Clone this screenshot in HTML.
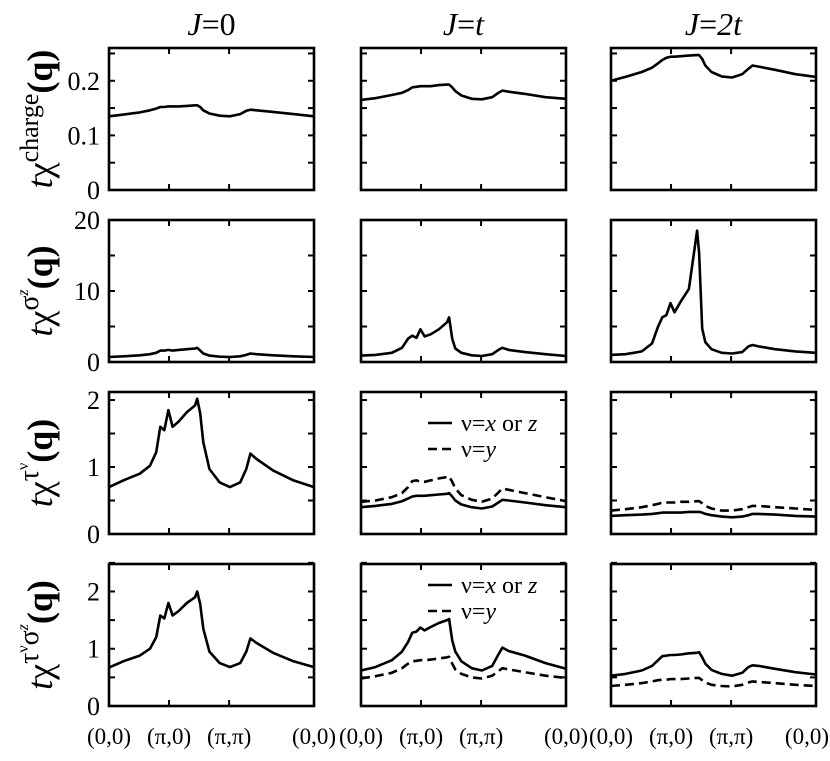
<!DOCTYPE html>
<html><head><meta charset="utf-8"><style>
html,body{margin:0;padding:0;background:#fff;}
svg{display:block;font-family:"Liberation Serif",serif;}
</style></head><body>
<svg id="fig" width="830" height="761" viewBox="0 0 830 761" xmlns="http://www.w3.org/2000/svg"></svg>
<script>
// ---- data ----
const xGrid = [0,0.07,0.15,0.2,0.23,0.25,0.27,0.29,0.31,0.34,0.38,0.42,0.43,0.445,0.46,0.49,0.54,0.59,0.64,0.67,0.69,0.72,0.8,0.9,1];
const xTickLabels = ["(0,0)","(\u03c0,0)","(\u03c0,\u03c0)","(0,0)"];
const xTickVals = [0, 1/3.414, 2/3.414, 1];
const colTitles = ["0","t","2t"];

const chargeJ0 = [0.135,0.138,0.142,0.146,0.149,0.152,0.152,0.153,0.153,0.153,0.154,0.155,0.155,0.152,0.146,0.140,0.136,0.135,0.139,0.145,0.147,0.146,0.143,0.139,0.135];
const chargeJ1 = [0.165,0.168,0.174,0.178,0.183,0.188,0.189,0.190,0.190,0.190,0.192,0.193,0.193,0.188,0.181,0.173,0.167,0.166,0.170,0.178,0.182,0.180,0.176,0.170,0.167];
const chargeJ2 = [0.200,0.207,0.216,0.224,0.232,0.238,0.242,0.244,0.244,0.245,0.246,0.247,0.247,0.240,0.228,0.216,0.208,0.206,0.212,0.222,0.228,0.226,0.220,0.212,0.207];

const spinJ0 = [0.7,0.8,0.95,1.1,1.3,1.6,1.6,1.7,1.6,1.7,1.8,1.9,2.0,1.6,1.2,0.9,0.75,0.7,0.8,1.0,1.2,1.1,0.95,0.8,0.7];
const spinJ1 = [0.9,1.0,1.3,2.0,3.3,3.7,3.4,4.6,3.6,3.9,4.6,5.6,6.3,3.3,1.9,1.3,0.95,0.85,1.1,1.7,2.0,1.7,1.4,1.1,0.85];
const spinJ2 = [1.0,1.1,1.5,2.6,5.0,6.3,6.6,8.3,7.0,8.5,10.3,18.5,15.4,4.7,2.8,1.8,1.3,1.2,1.4,2.2,2.4,2.2,1.8,1.5,1.3];

const orbJ0 = [0.70,0.80,0.90,1.02,1.22,1.6,1.55,1.85,1.6,1.68,1.82,1.92,2.02,1.8,1.37,0.97,0.77,0.70,0.77,0.97,1.2,1.12,0.95,0.80,0.70];
const orbJ1xz = [0.40,0.42,0.45,0.49,0.53,0.56,0.57,0.57,0.57,0.58,0.59,0.60,0.61,0.56,0.50,0.44,0.40,0.38,0.41,0.47,0.51,0.50,0.47,0.43,0.40];
const orbJ1y = [0.48,0.50,0.55,0.61,0.70,0.79,0.80,0.78,0.78,0.80,0.83,0.85,0.86,0.78,0.68,0.58,0.51,0.48,0.53,0.62,0.68,0.66,0.61,0.55,0.49];
const orbJ2xz = [0.27,0.28,0.29,0.30,0.31,0.32,0.32,0.32,0.32,0.32,0.33,0.33,0.33,0.32,0.30,0.28,0.26,0.25,0.26,0.28,0.30,0.30,0.29,0.27,0.26];
const orbJ2y = [0.35,0.37,0.40,0.43,0.45,0.47,0.47,0.47,0.47,0.48,0.48,0.49,0.49,0.46,0.42,0.38,0.35,0.35,0.37,0.40,0.42,0.42,0.40,0.38,0.36];

const soJ0 = [0.67,0.78,0.88,1.0,1.2,1.58,1.53,1.8,1.58,1.66,1.8,1.9,2.0,1.78,1.35,0.95,0.75,0.68,0.75,0.95,1.18,1.1,0.93,0.78,0.68];
const soJ1xz = [0.62,0.68,0.80,0.95,1.12,1.28,1.30,1.37,1.32,1.38,1.45,1.50,1.52,1.15,0.95,0.78,0.66,0.62,0.70,0.90,1.02,0.96,0.88,0.75,0.65];
const soJ1y = [0.48,0.52,0.58,0.66,0.74,0.78,0.79,0.80,0.80,0.81,0.83,0.85,0.86,0.74,0.64,0.56,0.50,0.48,0.53,0.61,0.66,0.64,0.59,0.53,0.49];
const soJ2xz = [0.53,0.56,0.62,0.70,0.80,0.87,0.88,0.89,0.89,0.90,0.92,0.93,0.94,0.85,0.74,0.63,0.56,0.53,0.58,0.68,0.71,0.70,0.65,0.59,0.55];
const soJ2y = [0.35,0.37,0.40,0.43,0.45,0.46,0.46,0.47,0.47,0.47,0.48,0.49,0.49,0.45,0.41,0.37,0.35,0.34,0.37,0.41,0.43,0.42,0.40,0.37,0.35];

const row1Ticks = [0,0.05,0.1,0.15,0.2,0.25];
const row1Labels = ["0","0.1","0.2"];
const row2Ticks = [0,5,10,15,20];
const row2Labels = ["0","10","20"];
const row3Ticks = [0,0.5,1,1.5,2];
const row3Labels = ["0","1","2"];
const row4Ticks = [0,0.5,1,1.5,2,2.5];
const row4Labels = ["0","1","2"];

// ---- layout ----
const NS="http://www.w3.org/2000/svg";
const svg=document.getElementById('fig');
const colX=[109,361,611], PW=205;
const rowY=[48,220,392,564], PH=142;
const rows=[
 {max:0.26, ticks:row1Ticks, labels:row1Labels, series:[[chargeJ0],[chargeJ1],[chargeJ2]], name:'charge'},
 {max:20, ticks:row2Ticks, labels:row2Labels, series:[[spinJ0],[spinJ1],[spinJ2]], name:'spin'},
 {max:2.12, ticks:row3Ticks, labels:row3Labels, series:[[orbJ0],[orbJ1xz,orbJ1y],[orbJ2xz,orbJ2y]], name:'orbital'},
 {max:2.48, ticks:row4Ticks, labels:row4Labels, series:[[soJ0],[soJ1xz,soJ1y],[soJ2xz,soJ2y]], name:'spin-orbital'}
];
function mk(tag,attrs,parent){const e=document.createElementNS(NS,tag);for(const k in attrs)e.setAttribute(k,attrs[k]);(parent||svg).appendChild(e);return e;}

rows.forEach((row,ri)=>{
 const y0=rowY[ri];
 const ys=v=>y0+PH-v/row.max*PH;
 colX.forEach((x0,ci)=>{
  const xs=f=>x0+f*PW;
  const g=mk('g',{});
  
  
  row.series[ci].forEach((vals,si)=>{
   let d='';
   vals.forEach((v,i)=>{d+=(i?'L':'M')+xs(xGrid[i]).toFixed(1)+','+ys(v).toFixed(1);});
   const p=mk('path',{d:d,fill:'none',stroke:'#000','stroke-width':2.6,'stroke-linejoin':'round'},g);
   if(si===1)p.setAttribute('stroke-dasharray','9,5');
   
   
  });
  row.ticks.forEach(t=>{
   const yy=ys(t);
   mk('line',{x1:x0,y1:yy,x2:x0+6,y2:yy,stroke:'#000','stroke-width':2},g);
   mk('line',{x1:x0+PW,y1:yy,x2:x0+PW-6,y2:yy,stroke:'#000','stroke-width':2},g);
  });
  xTickVals.slice(1,3).forEach(t=>{
   mk('line',{x1:xs(t),y1:y0,x2:xs(t),y2:y0+6,stroke:'#000','stroke-width':2},g);
   mk('line',{x1:xs(t),y1:y0+PH,x2:xs(t),y2:y0+PH-6,stroke:'#000','stroke-width':2},g);
  });
  const fr=mk('rect',{x:x0,y:y0,width:PW,height:PH,fill:'none',stroke:'#000','stroke-width':2.6},g);
  
  
 });
 row.labels.forEach(l=>{
  const t=mk('text',{x:100,y:ys(parseFloat(l))+9,'text-anchor':'end','font-size':26});
  t.textContent=l;
  
  
 });
});

colX.forEach((x0,ci)=>{
 xTickVals.forEach((f,i)=>{
  const last=(ci===2&&i===3);
  const t=mk('text',{x:last?829:x0+f*PW,y:744,'text-anchor':last?'end':'middle','font-size':23});
  t.textContent=xTickLabels[i];
  
  
 });
 const tt=mk('text',{x:x0+PW/2,y:35,'text-anchor':'middle','font-size':32});
 tt.innerHTML='<tspan font-style="italic">J</tspan>=<tspan'+(colTitles[ci]==='0'?'':' font-style="italic"')+'>'+colTitles[ci]+'</tspan>';
 
 
});
</script>
<script>
(function(){
 const NS="http://www.w3.org/2000/svg", svg=document.getElementById('fig');
 const titles=[
  {cy:119, html:'<tspan font-style="italic">t</tspan>χ<tspan dy="-14" font-size="26">charge</tspan><tspan dy="14" font-weight="bold">(q)</tspan>'},
  {cy:291, html:'<tspan font-style="italic">t</tspan>χ<tspan dy="-14" font-size="28">σ</tspan><tspan dy="-10" font-size="16" font-style="italic">z</tspan><tspan dy="24" font-weight="bold">(q)</tspan>'},
  {cy:463, html:'<tspan font-style="italic">t</tspan>χ<tspan dy="-14" font-size="28">τ</tspan><tspan dy="-10" font-size="16">ν</tspan><tspan dy="24" font-weight="bold">(q)</tspan>'},
  {cy:635, html:'<tspan font-style="italic">t</tspan>χ<tspan dy="-14" font-size="28">τ</tspan><tspan dy="-10" font-size="16">ν</tspan><tspan dy="10" font-size="28">σ</tspan><tspan dy="-10" font-size="16" font-style="italic">z</tspan><tspan dy="24" font-weight="bold">(q)</tspan>'}
 ];
 titles.forEach((t,i)=>{
  const e=document.createElementNS(NS,'text');
  e.setAttribute('transform','translate(52,'+t.cy+') rotate(-90)');
  e.setAttribute('text-anchor','middle');
  e.setAttribute('font-size','36');
  e.innerHTML=t.html;
  
  
  svg.appendChild(e);
 });
 [{y:423},{y:585}].forEach(L=>{
  const g=document.createElementNS(NS,'g');
  
  
  g.innerHTML='<line x1="428" y1="'+L.y+'" x2="452" y2="'+L.y+'" stroke="#000" stroke-width="2.6"/>'+
   '<text x="461" y="'+(L.y+8)+'" font-size="24">ν=<tspan font-style="italic">x</tspan> or <tspan font-style="italic">z</tspan></text>'+
   '<line x1="428" y1="'+(L.y+26)+'" x2="452" y2="'+(L.y+26)+'" stroke="#000" stroke-width="2.6" stroke-dasharray="9,5"/>'+
   '<text x="461" y="'+(L.y+34)+'" font-size="24">ν=<tspan font-style="italic">y</tspan></text>';
  svg.appendChild(g);
 });
})();
</script>
</body></html>
